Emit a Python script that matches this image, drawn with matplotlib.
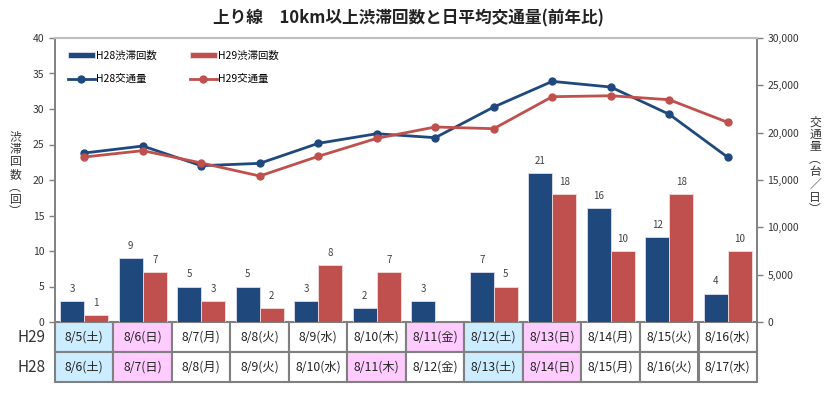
import matplotlib
matplotlib.use("Agg")
import matplotlib.pyplot as plt
import numpy as np

plt.rcParams["font.family"] = ["Noto Sans CJK JP", "DejaVu Sans"]

days_h29 = ["8/5(土)", "8/6(日)", "8/7(月)", "8/8(火)", "8/9(水)", "8/10(木)",
            "8/11(金)", "8/12(土)", "8/13(日)", "8/14(月)", "8/15(火)", "8/16(水)"]
days_h28 = ["8/6(土)", "8/7(日)", "8/8(月)", "8/9(火)", "8/10(水)", "8/11(木)",
            "8/12(金)", "8/13(土)", "8/14(日)", "8/15(月)", "8/16(火)", "8/17(水)"]

jam_h28 = [3, 9, 5, 5, 3, 2, 3, 7, 21, 16, 12, 4]
jam_h29 = [1, 7, 3, 2, 8, 7, None, 5, 18, 10, 18, 10]

traffic_h28 = [17850, 18590, 16510, 16760, 18870, 19890, 19470, 22710, 25420, 24820, 21940, 17400]
traffic_h29 = [17430, 18100, 16800, 15420, 17500, 19400, 20600, 20420, 23800, 23900, 23480, 21090]

# 土 = light blue, 日/祝 = pink
kind_h29 = ["sat", "sun", "", "", "", "", "sun", "sat", "sun", "", "", ""]
kind_h28 = ["sat", "sun", "", "", "", "sun", "", "sat", "sun", "", "", ""]

BLUE = "#1F497D"
RED = "#C0504D"
cell_fill = {"sat": "#CCECFF", "sun": "#FFCCFF", "": "white"}

fig = plt.figure(figsize=(8.28, 3.94), dpi=100)
ax = fig.add_axes([55 / 828, 1 - 322 / 394, 702 / 828, 284 / 394])
ax2 = ax.twinx()

x = np.arange(len(days_h29))
w = 0.41
h29_vals = [v if v is not None else 0 for v in jam_h29]
b28 = ax.bar(x - w / 2, jam_h28, w, color=BLUE, edgecolor="#DDDDEE", linewidth=0.6, label="H28渋滞回数")
b29 = ax.bar(x + w / 2, h29_vals, w, color=RED, edgecolor="#F2DCDB", linewidth=0.6, label="H29渋滞回数")

for xi, v in zip(x, jam_h28):
    ax.text(xi - w / 2, v + 1.0, str(v), ha="center", va="bottom", fontsize=7, color="#404040")
for xi, v in zip(x, jam_h29):
    if v is not None:
        ax.text(xi + w / 2, v + 1.0, str(v), ha="center", va="bottom", fontsize=7, color="#404040")

l28, = ax2.plot(x, traffic_h28, color=BLUE, lw=2, marker="o", ms=5, label="H28交通量")
l29, = ax2.plot(x, traffic_h29, color=RED, lw=2, marker="o", ms=5, label="H29交通量")

ax.set_xlim(-0.5, len(x) - 0.5)
ax.set_ylim(0, 40)
ax.set_yticks(range(0, 41, 5))
ax2.set_ylim(0, 30000)
ax2.set_yticks(range(0, 30001, 5000))
ax2.set_yticklabels([f"{v:,}" for v in range(0, 30001, 5000)])
ax.set_xticks([])

for a in (ax, ax2):
    a.tick_params(axis="y", labelsize=7.5, colors="#808080", labelcolor="#333333", length=4, width=1)
    a.spines["bottom"].set_visible(False)
    for s in ("left", "right"):
        a.spines[s].set_color("#808080")
        a.spines[s].set_linewidth(1.2)
    a.spines["top"].set_color("#BFBFBF")
    a.spines["top"].set_linewidth(1.5)

ax.legend([b28, l28, b29, l29], ["H28渋滞回数", "H28交通量", "H29渋滞回数", "H29交通量"],
          ncol=2, loc="upper left", bbox_to_anchor=(0.0, 1.0), frameon=False,
          fontsize=7.5, handlelength=2.6, handleheight=0.5, columnspacing=3.2,
          labelspacing=1.3, handletextpad=0.1, borderaxespad=0.8)

# date table under the axes
th = 60 / 284
tab = ax.table(cellText=[days_h29, days_h28],
               cellColours=[[cell_fill[k] for k in kind_h29], [cell_fill[k] for k in kind_h28]],
               cellLoc="center", bbox=[0, -th, 1, th])
tab.auto_set_font_size(False)
tab.set_fontsize(8.8)
for cell in tab.get_celld().values():
    cell.set_edgecolor("#808080")
    cell.set_linewidth(1.5)
    cell.get_text().set_color("#222222")
ax.text(-0.013, -th * 0.25, "H29", transform=ax.transAxes, ha="right", va="center", fontsize=11, color="#333333")
ax.text(-0.013, -th * 0.75, "H28", transform=ax.transAxes, ha="right", va="center", fontsize=11, color="#333333")

fig.text(408 / 828, 1 - 18 / 394, "上り線　10km以上渋滞回数と日平均交通量(前年比)",
         ha="center", va="center", fontsize=12, fontweight="bold", color="#222222")

# stacked (vertical writing) axis titles
left_label = "渋滞回数︵回︶"
right_label = "交通量︵台／日︶"
for i, ch in enumerate(left_label):
    fig.text(15 / 828, 1 - (137 + i * 12.5) / 394, ch, ha="center", va="center",
             fontsize=8.5, color="#333333")
for i, ch in enumerate(right_label):
    fig.text(815 / 828, 1 - (122 + i * 12.5) / 394, ch, ha="center", va="center",
             fontsize=8.5, color="#333333")

fig.savefig("out.png", dpi=100)
